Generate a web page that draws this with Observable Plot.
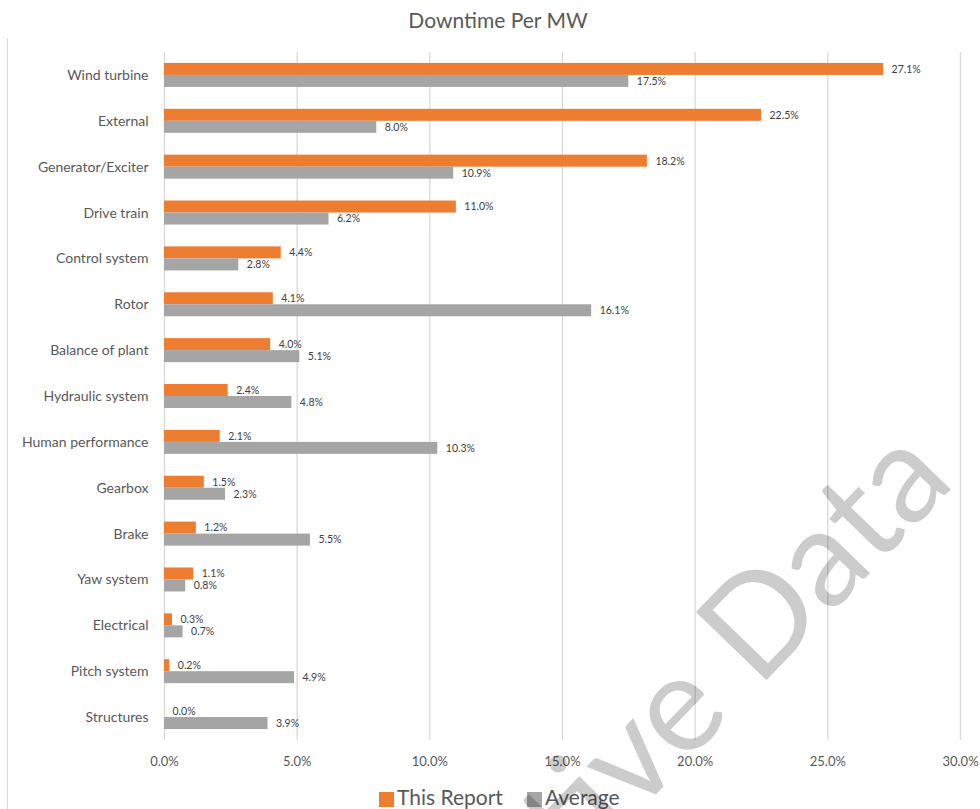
<!DOCTYPE html>
<html>
<head>
<meta charset="utf-8">
<script src="https://cdn.jsdelivr.net/npm/d3@7"></script>
<script src="https://cdn.jsdelivr.net/npm/@observablehq/plot@0.6"></script>
<style>
  html, body { margin: 0; padding: 0; background: #fff; }
  body { width: 980px; height: 809px; position: relative; overflow: hidden; font-family: Lato, "Open Sans", sans-serif; }
  #title { position: absolute; left: 0; top: 6px; width: 996px; text-align: center; font-size: 21px; color: #595959; line-height: 28px; }
  #chart { position: absolute; left: 0; top: 40px; }
  #border { position: absolute; left: 7px; top: 38px; width: 0; height: 780px; border-left: 1px solid #d9d9d9; }
  #legend { position: absolute; left: 379px; top: 784px; display: flex; align-items: center; font-size: 21px; color: #595959; line-height: 26px; white-space: nowrap; }
  #legend .item { display: flex; align-items: center; margin-right: 24px; }
  #legend .sw { width: 15px; height: 15px; margin-right: 3px; margin-top: 4px; }
  #wm { position: absolute; left: 0; top: 0; pointer-events: none; }
</style>
</head>
<body>
<div id="border"></div>
<div id="title">Downtime Per MW</div>
<div id="chart"></div>
<div id="legend"></div>
<svg id="wm" width="980" height="809"></svg>
<script>
const categories = ["Wind turbine", "External", "Generator/Exciter", "Drive train", "Control system", "Rotor", "Balance of plant", "Hydraulic system", "Human performance", "Gearbox", "Brake", "Yaw system", "Electrical", "Pitch system", "Structures"];
const thisReport = [27.1, 22.5, 18.2, 11.0, 4.4, 4.1, 4.0, 2.4, 2.1, 1.5, 1.2, 1.1, 0.3, 0.2, 0.0];
const average = [17.5, 8.0, 10.9, 6.2, 2.8, 16.1, 5.1, 4.8, 10.3, 2.3, 5.5, 0.8, 0.7, 4.9, 3.9];
const seriesNames = ["This Report", "Average"];
const seriesColors = ["#ED7D31", "#A5A5A5"];
const xTicks = [0, 5, 10, 15, 20, 25, 30];
const watermark = "Illustrative Data";

const W = 980, H = 730, mt = 12, mb = 30, ml = 164, mr = 20;
const band = (H - mt - mb) / categories.length;
const barH = 12;

const rowsA = categories.map((c, i) => ({category: c, series: seriesNames[0], value: thisReport[i]}));
const rowsB = categories.map((c, i) => ({category: c, series: seriesNames[1], value: average[i]}));
const fmt = d => d.toFixed(1) + "%";

const chart = Plot.plot({
  width: W, height: H,
  marginTop: mt, marginBottom: mb, marginLeft: ml, marginRight: mr,
  style: {fontFamily: "Lato, 'Open Sans', sans-serif", background: "transparent", overflow: "visible"},
  x: {domain: [0, 30], label: null},
  y: {domain: categories, padding: 0, round: false, label: null},
  marks: [
    Plot.gridX(xTicks, {stroke: "#d9d9d9", strokeOpacity: 1, strokeWidth: 1.3}),
    Plot.barX(rowsA, {x: "value", y: "category", fill: seriesColors[0], insetTop: band / 2 - barH, insetBottom: band / 2}),
    Plot.barX(rowsB, {x: "value", y: "category", fill: seriesColors[1], insetTop: band / 2, insetBottom: band / 2 - barH}),
    Plot.text(rowsA, {x: "value", y: "category", text: d => fmt(d.value), dx: 8, dy: -barH / 2, textAnchor: "start", fontSize: 10.5, fill: "#404040"}),
    Plot.text(rowsB, {x: "value", y: "category", text: d => fmt(d.value), dx: 8, dy: barH / 2, textAnchor: "start", fontSize: 10.5, fill: "#404040"}),
    Plot.axisX({ticks: xTicks, tickSize: 0, tickPadding: 16, fontSize: 13, color: "#595959", tickFormat: fmt, label: null}),
    Plot.axisY({tickSize: 0, tickPadding: 16, fontSize: 14, color: "#595959", label: null})
  ]
});
document.getElementById("chart").appendChild(chart);

const legend = document.getElementById("legend");
seriesNames.forEach((name, i) => {
  const item = document.createElement("div");
  item.className = "item";
  const sw = document.createElement("span");
  sw.className = "sw";
  sw.style.background = seriesColors[i];
  const label = document.createElement("span");
  label.textContent = name;
  item.appendChild(sw);
  item.appendChild(label);
  legend.appendChild(item);
});

const wm = d3.select("#wm");
wm.append("text")
  .attr("x", 957).attr("y", 483)
  .attr("transform", "rotate(-46 957 483)")
  .attr("text-anchor", "end")
  .attr("font-family", "Lato, 'Open Sans', sans-serif")
  .attr("font-size", 137)
  .attr("fill", "#000")
  .attr("fill-opacity", 0.2)
  .text(watermark);
</script>
</body>
</html>
